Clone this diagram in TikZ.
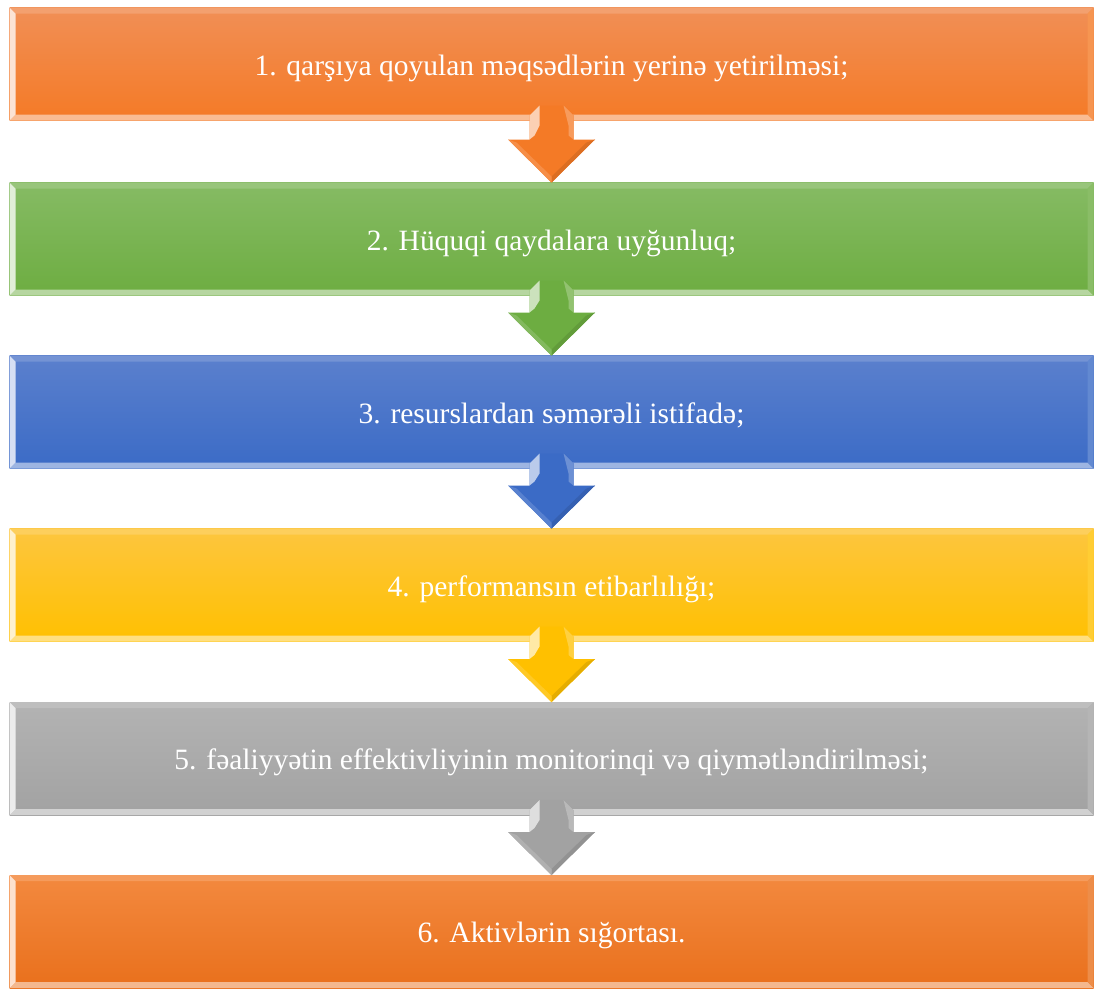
\documentclass[tikz,border=0pt]{standalone}
\usepackage{fontspec}
\setmainfont{Liberation Serif}
\usetikzlibrary{calc}
\definecolor{oT}{HTML}{F18F56}\definecolor{oB}{HTML}{F47A26}
\definecolor{gT}{HTML}{86BB64}\definecolor{gB}{HTML}{6DAD41}
\definecolor{bT}{HTML}{5B80CD}\definecolor{bB}{HTML}{3B6BC6}
\definecolor{yT}{HTML}{FDC63F}\definecolor{yB}{HTML}{FFC000}
\definecolor{rT}{HTML}{B3B3B3}\definecolor{rB}{HTML}{A2A2A2}
\definecolor{pT}{HTML}{F3893F}\definecolor{pB}{HTML}{E9701C}
\newcommand\bevbox[5]{%
  \node[stepbox, top color=#3, bottom color=#4] (#1) at (551.5,#2) {\raisebox{-11pt}[0pt][0pt]{#5}};
  \fill[#3!85!white] (#1.north west) -- (#1.north east) -- ([shift={(-6,6)}]#1.north east) -- ([shift={(6,6)}]#1.north west) -- cycle;
  \fill[#4!50!white] (#1.south west) -- (#1.south east) -- ([shift={(-6,-6)}]#1.south east) -- ([shift={(6,-6)}]#1.south west) -- cycle;
  \fill[#3!25!white] (#1.north west) -- (#1.south west) -- ([shift={(6,-6)}]#1.south west) -- ([shift={(6,6)}]#1.north west) -- cycle;
  \fill[#4!80!white] (#1.north east) -- (#1.south east) -- ([shift={(-6,-6)}]#1.south east) -- ([shift={(-6,6)}]#1.north east) -- cycle;
}
\newcommand\blockarrow[3]{%
  \fill[#3] ($(#1.south)+(-12,-15)$) -- ($(#1.south)+(12,-15)$) -- ($(#1.south)+(22,-5)$)
    -- ($(#2.north)+(22,-43)$) -- ($(#2.north)+(43.5,-43)$) -- (#2.north)
    -- ($(#2.north)+(-43.5,-43)$) -- ($(#2.north)+(-22,-43)$) -- ($(#1.south)+(-22,-5)$) -- cycle;
  \fill[#3!35!white] ($(#1.south)+(-22,-5)$) -- ($(#1.south)+(-12,-15)$) -- ($(#1.south)+(-12,5)$) -- ($(#2.north)+(-17,-47)$) -- ($(#2.north)+(-22,-43)$) -- cycle;
  \fill[#3!75!white] ($(#1.south)+(22,-5)$) -- ($(#1.south)+(12,-15)$) -- ($(#1.south)+(17,5)$) -- ($(#2.north)+(17,-47)$) -- ($(#2.north)+(22,-43)$) -- cycle;
  \fill[#3!90!black] ($(#2.north)+(43.5,-43)$) -- (#2.north) -- ($(#2.north)+(0,-6)$) -- ($(#2.north)+(35,-40)$) -- cycle;
  \fill[#3!85!white] ($(#2.north)+(-43.5,-43)$) -- (#2.north) -- ($(#2.north)+(0,-6)$) -- ($(#2.north)+(-35,-40)$) -- cycle;
}
\begin{document}
\begin{tikzpicture}[x=1pt,y=-1pt,
  stepbox/.style={minimum width=1084pt, minimum height=113pt, inner sep=0pt, outer sep=0pt,
    text=white, font=\fontsize{29.5}{34}\selectfont}]
\useasboundingbox (0,0) rectangle (1100,988);
\fill[white] (0,0) rectangle (1100,988);
\bevbox{b1}{64}{oT}{oB}{1. qarşıya qoyulan məqsədlərin yerinə yetirilməsi;}
\bevbox{b2}{239}{gT}{gB}{2. Hüquqi qaydalara uyğunluq;}
\bevbox{b3}{412}{bT}{bB}{3. resurslardan səmərəli istifadə;}
\bevbox{b4}{585}{yT}{yB}{4. performansın etibarlılığı;}
\bevbox{b5}{758.5}{rT}{rB}{5. fəaliyyətin effektivliyinin monitorinqi və qiymətləndirilməsi;}
\bevbox{b6}{931.5}{pT}{pB}{6. Aktivlərin sığortası.}
\blockarrow{b1}{b2}{oB}
\blockarrow{b2}{b3}{gB}
\blockarrow{b3}{b4}{bB}
\blockarrow{b4}{b5}{yB}
\blockarrow{b5}{b6}{rB}
\end{tikzpicture}
\end{document}
